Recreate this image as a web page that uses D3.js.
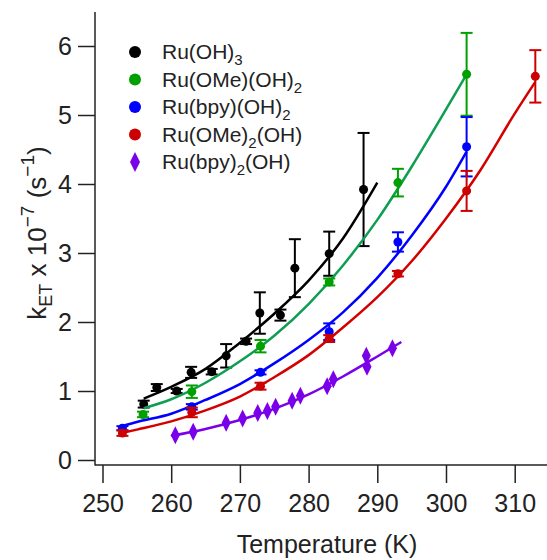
<!DOCTYPE html>
<html>
	<head>
		<script src="https://d3js.org/d3.v7.min.js"></script>
		<style>
			body { margin: 0; background: #fff; }
			text { font-family: "Liberation Sans", Arial, sans-serif; fill: #222; }
		</style>
	</head>
	<body>
		<svg id="chart" width="547" height="560"></svg>

		<script type="text/javascript">
			// measured points (temperature K, rate x 1e-7 s^-1, error)
			var blackT = [256.0, 257.9, 260.8, 262.9, 265.9, 268.0, 270.9, 272.9, 275.9, 278.0, 283.0, 288.0];
			var blackK = [0.81, 1.05, 1.00, 1.27, 1.28, 1.51, 1.72, 2.13, 2.10, 2.78, 2.99, 3.92];
			var blackE = [0.05, 0.05, 0.03, 0.08, 0.04, 0.17, 0.04, 0.30, 0.08, 0.42, 0.32, 0.82];

			var greenT = [255.9, 263.0, 273.0, 283.0, 293.0, 303.0];
			var greenK = [0.66, 0.99, 1.65, 2.58, 4.02, 5.59];
			var greenE = [0.04, 0.09, 0.09, 0.05, 0.20, 0.60];

			var blueT = [252.9, 263.0, 273.0, 283.0, 293.0, 303.0];
			var blueK = [0.46, 0.77, 1.27, 1.86, 3.16, 4.54];
			var blueE = [0.03, 0.04, 0.03, 0.12, 0.14, 0.43];

			var redT = [252.9, 263.0, 273.0, 283.0, 293.0, 303.0, 313.0];
			var redK = [0.39, 0.69, 1.07, 1.76, 2.70, 3.90, 5.56];
			var redE = [0.04, 0.07, 0.05, 0.05, 0.04, 0.29, 0.38];

			var purpleT = [260.6, 263.2, 268.0, 270.4, 272.6, 274.0, 275.2, 277.6, 278.8, 282.7, 283.6, 288.4, 288.5, 292.2];
			var purpleK = [0.36, 0.41, 0.54, 0.60, 0.68, 0.71, 0.77, 0.86, 0.93, 1.07, 1.17, 1.51, 1.35, 1.62];

			// fitted curves
			var blackFitT = [256, 260, 265, 270, 275, 280, 285, 290];
			var blackFitK = [0.89, 1.06, 1.32, 1.70, 2.12, 2.60, 3.21, 4.02];
			var greenFitT = [256, 260, 265, 270, 275, 280, 285, 290, 295, 300, 303];
			var greenFitK = [0.75, 0.88, 1.12, 1.43, 1.80, 2.26, 2.82, 3.48, 4.25, 5.08, 5.59];
			var blueFitT = [252.8, 255, 260, 265, 270, 275, 280, 285, 290, 295, 300, 303];
			var blueFitK = [0.49, 0.55, 0.67, 0.87, 1.10, 1.40, 1.74, 2.14, 2.64, 3.25, 3.96, 4.47];
			var redFitT = [252.8, 255, 260, 265, 270, 275, 280, 285, 290, 295, 300, 305, 310, 313];
			var redFitK = [0.39, 0.44, 0.56, 0.72, 0.92, 1.20, 1.52, 1.92, 2.36, 2.88, 3.50, 4.20, 5.02, 5.48];
			var purpleFitT = [260, 265, 270, 275, 280, 285, 290, 293.5];
			var purpleFitK = [0.35, 0.45, 0.58, 0.74, 0.95, 1.21, 1.50, 1.71];

			var xMajor = [250, 260, 270, 280, 290, 300, 310];
			var yMajor = [0, 1, 2, 3, 4, 5, 6];

			var svg = d3.select('#chart');

			var x = d3.scaleLinear().domain([250, 310]).range([102.5, 514.7]);
			var y = d3.scaleLinear().domain([0, 6]).range([460, 46]);

			function zip(a, b, e) {
				return a.map(function(v, i) { return {t: v, k: b[i], e: e ? e[i] : 0}; });
			}

			var series = [
				{name: 'black', pt: '#000000', ln: '#000000', pts: zip(blackT, blackK, blackE), fit: zip(blackFitT, blackFitK)},
				{name: 'green', pt: '#00a000', ln: '#0d9e52', pts: zip(greenT, greenK, greenE), fit: zip(greenFitT, greenFitK)},
				{name: 'blue', pt: '#0000ff', ln: '#0000ff', pts: zip(blueT, blueK, blueE), fit: zip(blueFitT, blueFitK)},
				{name: 'red', pt: '#cc0000', ln: '#d40000', pts: zip(redT, redK, redE), fit: zip(redFitT, redFitK)}
			];

			var line = d3.line()
				.x(function(d) { return x(d.t); })
				.y(function(d) { return y(d.k); })
				.curve(d3.curveMonotoneX);

			// axes
			var gx = svg.append('g').attr('transform', 'translate(0,465)');
			gx.call(d3.axisBottom(x).tickValues(d3.range(252, 315, 2).filter(function(v) { return v % 10 != 0; }))
				.tickSize(10).tickFormat(''));
			gx.call(d3.axisBottom(x).tickValues(xMajor).tickSize(18).tickPadding(11));
			gx.selectAll('.domain').remove();
			gx.selectAll('line').attr('stroke', '#222').attr('stroke-width', 1.5);
			gx.selectAll('text').style('font-size', '25px').attr('fill', '#222');
			gx.append('line').attr('x1', 95).attr('x2', 547).attr('stroke', '#222').attr('stroke-width', 1.5);

			var gy = svg.append('g').attr('transform', 'translate(95,0)');
			gy.call(d3.axisLeft(y).tickValues(yMajor).tickFormat(d3.format('d')).tickSize(17).tickPadding(6));
			gy.selectAll('.domain').remove();
			gy.selectAll('line').attr('stroke', '#222').attr('stroke-width', 1.5);
			gy.selectAll('text').style('font-size', '25px').attr('fill', '#222');
			gy.append('line').attr('y1', 12).attr('y2', 465.5).attr('stroke', '#222').attr('stroke-width', 1.5);

			svg.append('text')
				.attr('x', 327).attr('y', 553)
				.attr('text-anchor', 'middle')
				.style('font-size', '25px')
				.text('Temperature (K)');

			var yl = svg.append('text')
				.attr('transform', 'translate(46,233) rotate(-90)')
				.attr('text-anchor', 'middle')
				.style('font-size', '26px');
			yl.append('tspan').text('k');
			yl.append('tspan').attr('dy', 6).style('font-size', '18px').text('ET');
			yl.append('tspan').attr('dy', -6).text(' x 10');
			yl.append('tspan').attr('dy', -12).style('font-size', '19px').text('\u22127');
			yl.append('tspan').attr('dy', 12).text('  (s');
			yl.append('tspan').attr('dy', -12).style('font-size', '19px').text('\u22121');
			yl.append('tspan').attr('dy', 12).text(')');

			// curves, error bars, points
			var plot = svg.append('g');

			series.forEach(function(s) {
				plot.append('path')
					.datum(s.fit)
					.attr('d', line)
					.attr('fill', 'none')
					.attr('stroke', s.ln)
					.attr('stroke-width', 2.5);

				var eb = plot.selectAll('g.eb-' + s.name)
					.data(s.pts)
					.enter().append('g')
					.attr('class', 'eb-' + s.name)
					.attr('stroke', s.pt)
					.attr('stroke-width', 2);
				eb.append('line')
					.attr('x1', function(d) { return x(d.t); })
					.attr('x2', function(d) { return x(d.t); })
					.attr('y1', function(d) { return y(d.k - d.e); })
					.attr('y2', function(d) { return y(d.k + d.e); });
				eb.append('line')
					.attr('x1', function(d) { return x(d.t) - 6; })
					.attr('x2', function(d) { return x(d.t) + 6; })
					.attr('y1', function(d) { return y(d.k - d.e); })
					.attr('y2', function(d) { return y(d.k - d.e); });
				eb.append('line')
					.attr('x1', function(d) { return x(d.t) - 6; })
					.attr('x2', function(d) { return x(d.t) + 6; })
					.attr('y1', function(d) { return y(d.k + d.e); })
					.attr('y2', function(d) { return y(d.k + d.e); });

				plot.selectAll('circle.pt-' + s.name)
					.data(s.pts)
					.enter().append('circle')
					.attr('class', 'pt-' + s.name)
					.attr('cx', function(d) { return x(d.t); })
					.attr('cy', function(d) { return y(d.k); })
					.attr('r', 4.5)
					.attr('fill', s.pt);
			});

			var purple = '#7b00ea';
			plot.append('path')
				.datum(zip(purpleFitT, purpleFitK))
				.attr('d', line)
				.attr('fill', 'none')
				.attr('stroke', purple)
				.attr('stroke-width', 2.5);

			var diamond = 'M0,-9 L4.5,0 L0,9 L-4.5,0 Z';
			plot.selectAll('path.dia')
				.data(zip(purpleT, purpleK))
				.enter().append('path')
				.attr('class', 'dia')
				.attr('d', diamond)
				.attr('transform', function(d) { return 'translate(' + x(d.t) + ',' + y(d.k) + ')'; })
				.attr('fill', purple);

			// legend
			var legendColors = ['#000000', '#00a000', '#0000ff', '#cc0000', purple];
			var legendParts = [
				[['Ru(OH)', 0], ['3', 1]],
				[['Ru(OMe)(OH)', 0], ['2', 1]],
				[['Ru(bpy)(OH)', 0], ['2', 1]],
				[['Ru(OMe)', 0], ['2', 1], ['(OH)', 0]],
				[['Ru(bpy)', 0], ['2', 1], ['(OH)', 0]]
			];

			var lg = svg.append('g');
			legendParts.forEach(function(parts, i) {
				var cy = 52 + i * 27.5;
				if (i < 4) {
					lg.append('circle').attr('cx', 135).attr('cy', cy).attr('r', 6).attr('fill', legendColors[i]);
				} else {
					lg.append('path').attr('d', 'M0,-10 L5,0 L0,10 L-5,0 Z')
						.attr('transform', 'translate(135,' + cy + ')')
						.attr('fill', legendColors[i]);
				}
				var t = lg.append('text').attr('x', 162).attr('y', cy + 7).style('font-size', '21px');
				var shift = 0;
				parts.forEach(function(p) {
					var dy = p[1] ? 6 - shift : -shift;
					shift = p[1] ? 6 : 0;
					t.append('tspan').attr('dy', dy).style('font-size', p[1] ? '15px' : '21px').text(p[0]);
				});
			});
		</script>
	</body>
</html>
